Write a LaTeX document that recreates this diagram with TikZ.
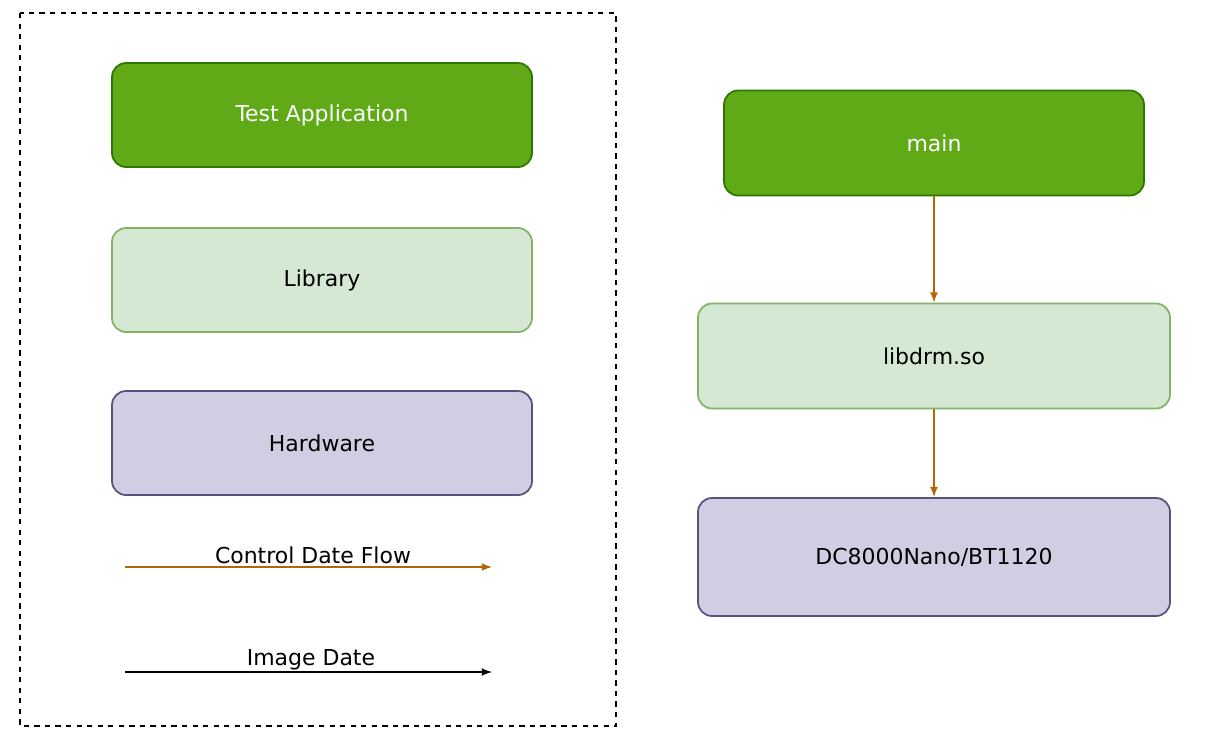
\documentclass[tikz,border=0pt]{standalone}
\usepackage{fontspec}
\setmainfont{DejaVu Sans}
\usetikzlibrary{positioning}
\definecolor{appfill}{HTML}{60A917}
\definecolor{appline}{HTML}{2D7600}
\definecolor{libfill}{HTML}{D5E8D4}
\definecolor{libline}{HTML}{82B366}
\definecolor{hwfill}{HTML}{D0CEE2}
\definecolor{hwline}{HTML}{56517E}
\definecolor{ctrl}{HTML}{B46504}
\tikzset{
  box/.style={draw,rounded corners=8pt,line width=1pt,font=\fontsize{12.5pt}{14pt}\selectfont},
  appbox/.style={box,fill=appfill,draw=appline,text=white},
  libbox/.style={box,fill=libfill,draw=libline},
  hwbox/.style={box,fill=hwfill,draw=hwline},
  ctrlarrow/.style={->,>=latex,line width=1pt,draw=ctrl},
  imgarrow/.style={->,>=latex,line width=1pt}
}
\begin{document}
\begin{tikzpicture}[x=0.02cm,y=-0.02cm]
            \useasboundingbox (0,0) rectangle (1218,752);
            \draw[dashed,line width=1pt] (20,13) rectangle (616,726);
            % legend
            \node[appbox,minimum width=420*0.02cm,minimum height=104*0.02cm](app) at (322,115){Test Application};
            \node[libbox,minimum width=420*0.02cm,minimum height=104*0.02cm](lib) at (322,280){Library};
            \node[hwbox,minimum width=420*0.02cm,minimum height=104*0.02cm](hw) at (322,443){Hardware};
            \coordinate (c1) at (125,567);
            \coordinate (c2) at (492,567);
            \coordinate (i1) at (125,672);
            \coordinate (i2) at (492,672);
            \draw[ctrlarrow] (c1) -- (c2);
            \draw[imgarrow] (i1) -- (i2);
            \node[font=\fontsize{12.5pt}{14pt}\selectfont](ctrllabel) at (313,555){Control Date Flow};
            \node[font=\fontsize{12.5pt}{14pt}\selectfont](imglabel) at (311,660){Image Date};
            % stack
            \node[appbox,minimum width=420*0.02cm,minimum height=105*0.02cm](main) at (934,143){main};
            \node[libbox,minimum width=472*0.02cm,minimum height=105*0.02cm](drm) at (934,356){libdrm.so};
            \node[hwbox,minimum width=472*0.02cm,minimum height=118*0.02cm](dc) at (934,557){DC8000Nano/BT1120};
            \draw[ctrlarrow] (main) -- (drm);
            \draw[ctrlarrow] (drm) -- (dc);
        \end{tikzpicture}
\end{document}
